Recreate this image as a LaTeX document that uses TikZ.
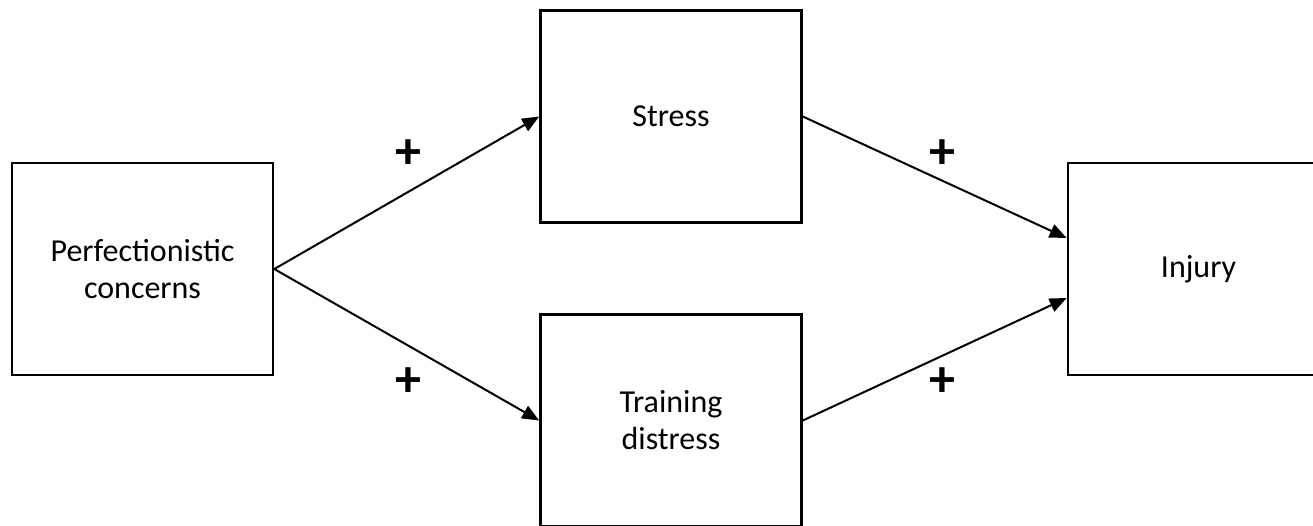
\documentclass[tikz,border=0pt]{standalone}
\usepackage{fontspec}
\setmainfont{Carlito}
\usetikzlibrary{arrows.meta}
\begin{document}
\begin{tikzpicture}[x=1pt,y=-1pt,
  box/.style={draw,line width=2.6pt,minimum width=261pt,minimum height=212pt,align=center,inner sep=0pt,
    font=\fontsize{32}{37}\selectfont},
  conn/.style={line width=2pt,-{Triangle[length=17pt,width=14pt]}},
  sign/.style={font=\fontsize{52}{52}\selectfont\bfseries}]
\useasboundingbox (0,0) rectangle (1313,525);
\node[box] (pc) at (142.5,269) {Perfectionistic\\concerns};
\node[box] (st) at (671,116.5) {Stress};
\node[box] (td) at (671,420.5) {Training\\distress};
\node[box] (in) at (1198.5,269) {Injury};
\coordinate (inA) at ([yshift=31pt]in.west);
\coordinate (inB) at ([yshift=-29pt]in.west);
\draw[conn] (pc.east) -- (st.west);
\draw[conn] (pc.east) -- (td.west);
\draw[conn] (st.east) -- (inA);
\draw[conn] (td.east) -- (inB);
\node[sign] (p1) at (408,154) {+};
\node[sign] (p2) at (408,382) {+};
\node[sign] (p3) at (942,154) {+};
\node[sign] (p4) at (942,382) {+};
\end{tikzpicture}
\end{document}
